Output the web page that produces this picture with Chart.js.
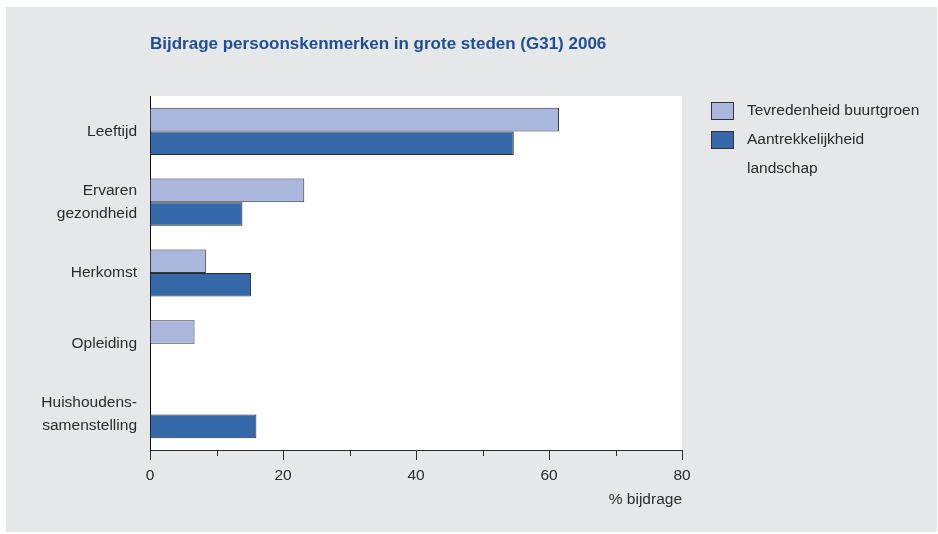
<!DOCTYPE html>
<html>
<head>
<meta charset="utf-8">
<title>Bijdrage persoonskenmerken</title>
<script src="https://cdn.jsdelivr.net/npm/chart.js@4.4.1/dist/chart.umd.min.js"></script>
<style>
  body { margin: 0; background: #fff; }
</style>
</head>
<body>
<canvas id="grafiek" width="938" height="534"></canvas>
<script>
// categorieen (y-as), meerdere regels per label
const categorieen = [
  ['Leeftijd'],
  ['Ervaren', 'gezondheid'],
  ['Herkomst'],
  ['Opleiding'],
  ['Huishoudens-', 'samenstelling']
]
const buurtgroen = [61.5, 23.2, 8.4, 6.7, null]
const landschap = [54.7, 13.9, 15.2, null, 16.0]
const reeksNamen = [['Tevredenheid buurtgroen'], ['Aantrekkelijkheid', 'landschap']]
const xTicks = [0, 20, 40, 60, 80]

const titel = 'Bijdrage persoonskenmerken in grote steden (G31) 2006'
const asTitel = '% bijdrage'

// smalle letter als die er is
const heeftSmal = () => {
  const c = document.createElement('canvas').getContext('2d')
  c.font = '20px "Liberation Sans Narrow", monospace'
  const a = c.measureText('Leeftijd gezondheid').width
  c.font = '20px monospace'
  return a !== c.measureText('Leeftijd gezondheid').width
}
const smal = heeftSmal()
const letter = smal ? '"Liberation Sans Narrow", "Liberation Sans", Arial, sans-serif' : '"Liberation Sans", Arial, sans-serif'
const letterMaat = smal ? 18 : 15.5
const tekstKleur = '#2b2b2b'

const achtergrond = {
  id: 'achtergrond',
  beforeDraw(chart) {
    const ctx = chart.ctx
    const a = chart.chartArea
    ctx.save()
    ctx.fillStyle = '#fff'
    ctx.fillRect(0, 0, chart.width, chart.height)
    ctx.fillStyle = '#e6e7e8'
    ctx.fillRect(6, 7, 931, 525)
    ctx.fillStyle = '#fff'
    ctx.fillRect(a.left, a.top, a.right - a.left, a.bottom - a.top)
    // titel
    ctx.fillStyle = '#1f4e96'
    ctx.font = 'bold 17px "Liberation Sans", Arial, sans-serif'
    ctx.textBaseline = 'alphabetic'
    ctx.fillText(titel, 150, 49)
    ctx.restore()
  }
}

// kleine streepjes tussen de grote ticks
const tussenTicks = {
  id: 'tussenTicks',
  afterDraw(chart) {
    const ctx = chart.ctx
    const x = chart.scales.x
    ctx.save()
    ctx.strokeStyle = tekstKleur
    ctx.lineWidth = 1
    for (let i = 0; i < x.ticks.length - 1; i++) {
      const px = Math.round(x.getPixelForValue((x.ticks[i].value + x.ticks[i + 1].value) / 2)) + 0.5
      ctx.beginPath()
      ctx.moveTo(px, x.top)
      ctx.lineTo(px, x.top + 6)
      ctx.stroke()
    }
    ctx.restore()
  }
}

// legenda rechts
const legenda = {
  id: 'legenda',
  afterDraw(chart) {
    const ctx = chart.ctx
    ctx.save()
    ctx.font = letterMaat + 'px ' + letter
    ctx.textBaseline = 'middle'
    ctx.fillStyle = tekstKleur
    let y = 111
    chart.data.datasets.forEach((ds, i) => {
      ctx.fillStyle = ds.backgroundColor
      ctx.fillRect(711, y - 9, 23, 18)
      ctx.strokeStyle = '#333'
      ctx.lineWidth = 1
      ctx.strokeRect(711.5, y - 8.5, 22, 17)
      ctx.fillStyle = tekstKleur
      reeksNamen[i].forEach((regel, j) => {
        ctx.fillText(regel, 747, y + j * 28.5)
      })
      y += 29
    })
    ctx.restore()
  }
}

const canvas = document.getElementById('grafiek')
const grafiek = new Chart(canvas, {
  type: 'bar',
  data: {
    labels: categorieen,
    datasets: [{
      label: reeksNamen[0].join(' '),
      data: buurtgroen,
      backgroundColor: '#abb8de',
      borderColor: '#333',
      borderWidth: 1,
      categoryPercentage: 0.667,
      barPercentage: 1
    }, {
      label: reeksNamen[1].join(' '),
      data: landschap,
      backgroundColor: '#3568a8',
      borderColor: '#2a2a2a',
      borderWidth: 1,
      categoryPercentage: 0.667,
      barPercentage: 1
    }]
  },
  options: {
    indexAxis: 'y',
    responsive: false,
    animation: false,
    devicePixelRatio: 1,
    layout: { padding: { left: 0, top: 96, right: 256, bottom: 0 } },
    plugins: {
      legend: { display: false },
      tooltip: { enabled: false }
    },
    scales: {
      x: {
        min: 0,
        max: 80,
        afterBuildTicks: (scale) => { scale.ticks = xTicks.map(v => ({ value: v })) },
        afterFit: (scale) => { scale.height = 84 },
        grid: { display: true, drawOnChartArea: false, drawTicks: true, tickLength: 10, color: tekstKleur },
        border: { display: true, color: tekstKleur, width: 1 },
        ticks: {
          color: tekstKleur,
          padding: 6,
          font: { family: letter, size: letterMaat }
        },
        title: {
          display: true,
          text: asTitel,
          align: 'end',
          color: tekstKleur,
          padding: { top: 0, bottom: 25 },
          font: { family: letter, size: letterMaat }
        }
      },
      y: {
        afterFit: (scale) => { scale.width = 150 },
        grid: { display: false, drawTicks: false },
        border: { display: true, color: '#111', width: 1 },
        ticks: {
          color: tekstKleur,
          padding: 13,
          font: { family: letter, size: letterMaat, lineHeight: 23 / letterMaat }
        }
      }
    }
  },
  plugins: [achtergrond, tussenTicks, legenda]
})
</script>
</body>
</html>
